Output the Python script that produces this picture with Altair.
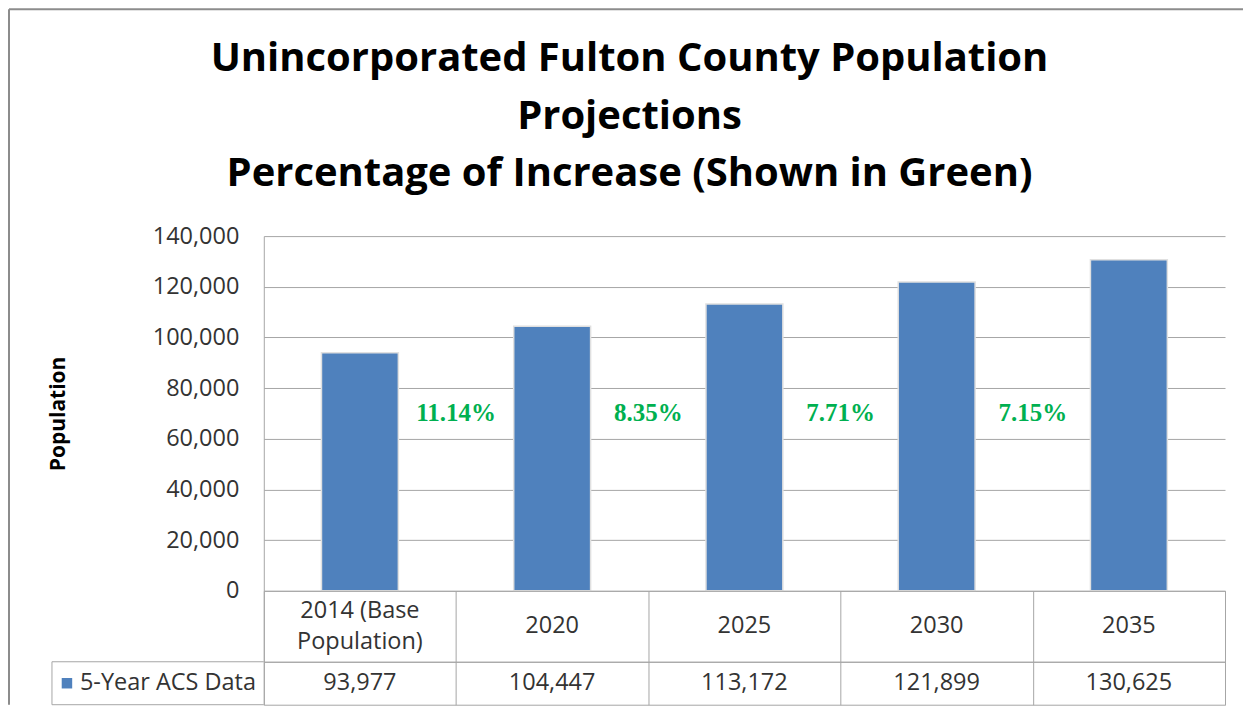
import altair as alt
import pandas as pd

# ---- data ----
categories = ["2014 (Base\nPopulation)", "2020", "2025", "2030", "2035"]
population = [93977, 104447, 113172, 121899, 130625]
increase_categories = ["2014 (Base\nPopulation)", "2020", "2025", "2030"]
increase_labels = ["11.14%", "8.35%", "7.71%", "7.15%"]
series_name = ["5-Year ACS Data"]
title_lines = [
    "Unincorporated Fulton County Population",
    "Projections",
    "Percentage of Increase (Shown in Green)",
]
y_axis_title = "Population"

df = pd.DataFrame({"category": categories, "population": population})
pct_df = pd.DataFrame({"category": increase_categories, "label": increase_labels})
series_df = pd.DataFrame({"series": series_name})
title_df = pd.DataFrame({"title": ["\n".join(title_lines)]})
one_df = pd.DataFrame({"k": [0]})

# ---- style ----
FONT = "Open Sans"
BLUE = "#4F81BD"
GREEN = "#00B050"
GRID = "#A6A6A6"
TEXT = "#333333"
W, H_PLOT, H_HEAD, H_VAL = 962, 355, 71, 43
LINE_H = 31

x_scale = alt.Scale(domain=categories, paddingInner=0, paddingOuter=0)
grid_axis = alt.Axis(grid=True, tickBand="extent", labels=False, ticks=False,
                     domain=False, title=None, gridColor=GRID, gridWidth=1)

# ---- top: bars ----
bars = alt.Chart(df).mark_bar(
    width=alt.RelativeBandSize(0.4), color=BLUE, stroke="#E0E0E0", strokeWidth=1.5
).encode(
    x=alt.X("category:N", scale=x_scale, axis=None),
    y=alt.Y(
        "population:Q",
        scale=alt.Scale(domain=[0, 140000], nice=False),
        axis=alt.Axis(
            tickCount=7, format=",.0f", labelFont=FONT, labelFontSize=23.5,
            labelColor=TEXT, labelPadding=25, ticks=False,
            domainColor=GRID, gridColor=GRID, gridWidth=1,
            title=y_axis_title, titleFont=FONT, titleFontSize=21,
            titleFontWeight="bold", titleColor="black",
            titleX=-199, titleY=H_PLOT / 2, titleBaseline="alphabetic",
        ),
    ),
)

pct = alt.Chart(pct_df).mark_text(
    font="Liberation Serif", fontWeight="bold", fontSize=25, color=GREEN,
    baseline="middle", align="center",
).encode(
    x=alt.X("category:N", scale=x_scale, bandPosition=1, axis=None),
    text="label:N",
)

title = alt.Chart(title_df).mark_text(
    font=FONT, fontWeight="bold", fontSize=40, lineBreak="\n", lineHeight=57.5,
    align="center", baseline="alphabetic", color="black",
).encode(x=alt.value(366), y=alt.value(-165), text="title:N")

border_left = alt.Chart(one_df).mark_rule(color="#8C8C8C", strokeWidth=2).encode(
    x=alt.value(-255), y=alt.value(-227), y2=alt.value(H_PLOT + H_HEAD + H_VAL)
)
border_top = alt.Chart(one_df).mark_rule(color="#8C8C8C", strokeWidth=2).encode(
    x=alt.value(-255), x2=alt.value(980), y=alt.value(-227)
)

top = alt.layer(bars, pct, title, border_left, border_top).properties(
    width=W, height=H_PLOT, view=alt.ViewBackground(stroke=None)
)

# ---- table header row ----
header_base = alt.Chart(df).encode(
    x=alt.X("category:N", scale=x_scale, axis=grid_axis),
    text="category:N",
)
header_single = header_base.mark_text(
    font=FONT, fontSize=23.5, color=TEXT, baseline="middle", align="center",
).transform_filter("indexof(datum.category, '\\n') < 0")
header_multi = header_base.mark_text(
    font=FONT, fontSize=23.5, lineBreak="\n", lineHeight=LINE_H, color=TEXT,
    baseline="middle", align="center", dy=-LINE_H / 2,
).transform_filter("indexof(datum.category, '\\n') >= 0")
header = alt.layer(header_single, header_multi).properties(
    width=W, height=H_HEAD, view=alt.ViewBackground(stroke=GRID)
)

# ---- table values row ----
vals = alt.Chart(df).mark_text(
    font=FONT, fontSize=23.5, color=TEXT, baseline="middle", align="center"
).encode(
    x=alt.X("category:N", scale=x_scale, axis=grid_axis),
    text=alt.Text("population:Q", format=","),
)
legend_sq = alt.Chart(series_df).mark_point(
    shape="square", filled=True, size=110, color=BLUE, opacity=1
).encode(x=alt.value(-197))
legend_txt = alt.Chart(series_df).mark_text(
    font=FONT, fontSize=23.5, color=TEXT, align="left", baseline="middle"
).encode(x=alt.value(-184), text="series:N")
box_left = alt.Chart(one_df).mark_rule(color=GRID, strokeWidth=1).encode(
    x=alt.value(-212), y=alt.value(0), y2=alt.value(H_VAL)
)
box_top = alt.Chart(one_df).mark_rule(color=GRID, strokeWidth=1).encode(
    x=alt.value(-212), x2=alt.value(0), y=alt.value(0)
)
box_bottom = alt.Chart(one_df).mark_rule(color=GRID, strokeWidth=1).encode(
    x=alt.value(-212), x2=alt.value(0), y=alt.value(H_VAL)
)
values = alt.layer(vals, legend_sq, legend_txt, box_left, box_top, box_bottom).properties(
    width=W, height=H_VAL, view=alt.ViewBackground(stroke=GRID)
)

chart = alt.vconcat(top, header, values, spacing=0, bounds="flush").properties(
    padding=0
).configure(font=FONT)

chart.save("out.html", embed_options={"renderer": "svg", "actions": False})
